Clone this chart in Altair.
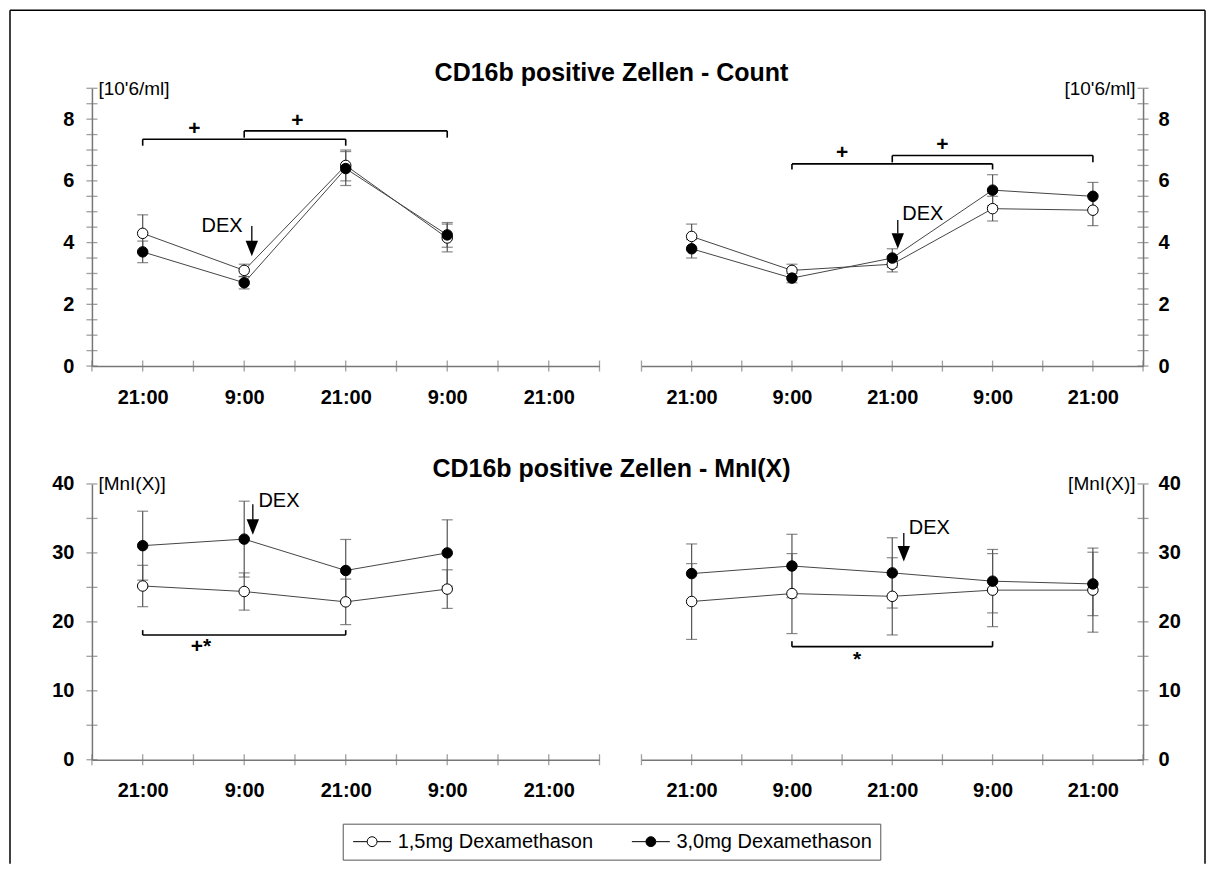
import altair as alt
import pandas as pd

FONT = "Liberation Sans"

groups = ["1,5mg Dexamethason", "3,0mg Dexamethason"]
titles = ["CD16b positive Zellen - Count", "CD16b positive Zellen - MnI(X)"]
x_tick_pos = [1, 3, 5, 7, 9]
x_tick_labels = ["21:00", "9:00", "21:00", "9:00", "21:00"]
x_minor = [0, 1, 2, 3, 4, 5, 6, 7, 8, 9, 10]
count_major = [0, 2, 4, 6, 8]
count_minor = [0, 0.5, 1, 1.5, 2, 2.5, 3, 3.5, 4, 4.5, 5, 5.5, 6, 6.5, 7, 7.5, 8, 8.5, 9]
mni_major = [0, 10, 20, 30, 40]
mni_minor = [0, 5, 10, 15, 20, 25, 30, 35, 40]

# Count, left panel
cl_x = [1, 3, 5, 7]
cl_15 = [4.3, 3.1, 6.5, 4.15]
cl_15_se = [0.6, 0.2, 0.5, 0.45]
cl_30 = [3.7, 2.7, 6.4, 4.25]
cl_30_se = [0.35, 0.2, 0.55, 0.4]

# Count, right panel
cr_x = [1, 3, 5, 7, 9]
cr_15 = [4.2, 3.1, 3.3, 5.1, 5.05]
cr_15_se = [0.4, 0.2, 0.25, 0.4, 0.5]
cr_30 = [3.8, 2.85, 3.5, 5.7, 5.5]
cr_30_se = [0.3, 0.15, 0.3, 0.5, 0.45]

# MnI(X), left panel
ml_x = [1, 3, 5, 7]
ml_15 = [25.2, 24.4, 22.9, 24.75]
ml_15_se = [3.0, 2.7, 3.3, 2.8]
ml_30 = [31.05, 32.0, 27.45, 30.0]
ml_30_se = [5.0, 5.5, 4.5, 4.8]

# MnI(X), right panel
mr_x = [1, 3, 5, 7, 9]
mr_15 = [22.95, 24.1, 23.7, 24.6, 24.6]
mr_15_se = [5.5, 5.8, 5.6, 5.3, 6.1]
mr_30 = [27.0, 28.1, 27.1, 25.9, 25.5]
mr_30_se = [4.3, 4.6, 5.1, 4.6, 4.6]

# significance brackets: x1, x2, y (bar), y_end (end of the end ticks), label, label x, label y
br_cl = [(1, 5, 7.35, 7.14, "+", 2.02, 7.68), (3, 7, 7.62, 7.40, "+", 4.05, 7.95)]
br_cr = [(3, 7, 6.55, 6.37, "+", 4.0, 6.9), (5, 9, 6.82, 6.60, "+", 6.0, 7.16)]
br_ml = [(1, 5, 18.1, 18.8, "+*", 2.15, 16.3)]
br_mr = [(3, 7, 16.4, 17.2, "*", 4.3, 14.5)]

# DEX arrow: x, line top, head base, head tip, text x, text y, text align
dex_cl = (3.15, 4.54, 4.05, 3.57, 2.97, 4.54, "right")
dex_cr = (5.11, 4.73, 4.30, 3.81, 5.20, 4.93, "left")
dex_ml = (3.17, 37.05, 34.8, 32.73, 3.28, 37.5, "left")
dex_mr = (5.23, 32.9, 30.96, 28.8, 5.33, 33.6, "left")

AXIS_GRAY = "#777777"
# legend symbol: line - circle - line, drawn from the entry's left edge
LEGEND_SYMBOL = ("M-1,0H0.85M2.15,0H4M2.15,0A0.65,0.65,0,1,1,0.85,0"
                 "A0.65,0.65,0,1,1,2.15,0Z")
ARROW_HEAD = "M-0.8,-1L0.8,-1L0,1Z"

label_expr = ("[" + ",".join("'%s'" % t for t in x_tick_labels) + "][indexof(["
              + ",".join(str(p) for p in x_tick_pos) + "], datum.value)]")


def panel(xs, m1, e1, m2, e2, ymax, y_major, y_minor, unit, side, brackets, dex,
          W, H, legend=None, decor=None):
    rows = []
    for g, ms, es in ((groups[0], m1, e1), (groups[1], m2, e2)):
        for x, m, e in zip(xs, ms, es):
            rows.append({"x": x, "y": m, "lo": m - e, "hi": m + e, "g": g})
    df = pd.DataFrame(rows)
    xsc = alt.Scale(domain=[0, 10], nice=False, zero=False)
    ysc = alt.Scale(domain=[0, ymax], nice=False, zero=True)

    xaxis = alt.Axis(values=x_tick_pos, labelExpr=label_expr, title=None, ticks=False,
                     tickSize=0, labelPadding=21, domainColor=AXIS_GRAY, domainWidth=1.5,
                     grid=False, labelFontSize=20, labelFontWeight="bold", labelFont=FONT,
                     labelColor="black")
    common_y = dict(values=y_major, title=unit, titleAngle=0, titleBaseline="middle",
                    titleY=0, titleFont=FONT, titleFontSize=19, titleFontWeight="normal",
                    titleColor="black", ticks=False, tickSize=0, domainColor=AXIS_GRAY,
                    domainWidth=1.5, grid=False, labelFontSize=20, labelFontWeight="bold",
                    labelFont=FONT, labelColor="black")
    if side == "left":
        yaxis = alt.Axis(orient="left", titleAlign="left", titleX=6, labelPadding=18, **common_y)
        tick_x = 0
    else:
        yaxis = alt.Axis(orient="right", titleAlign="right", titleX=-8, labelPadding=15, **common_y)
        tick_x = 10

    base = alt.Chart(df)
    ebar = base.mark_rule(color="#555555", strokeWidth=1.2).encode(
        x=alt.X("x:Q", scale=xsc, axis=xaxis),
        y=alt.Y("lo:Q", scale=ysc, axis=yaxis),
        y2="hi:Q",
    )
    cap_lo = base.mark_tick(orient="horizontal", size=11, thickness=1.2, color="#555555").encode(
        x=alt.X("x:Q", scale=xsc), y=alt.Y("lo:Q", scale=ysc))
    cap_hi = base.mark_tick(orient="horizontal", size=11, thickness=1.2, color="#555555").encode(
        x=alt.X("x:Q", scale=xsc), y=alt.Y("hi:Q", scale=ysc))
    line = base.mark_line(color="#444444", strokeWidth=1).encode(
        x=alt.X("x:Q", scale=xsc), y=alt.Y("y:Q", scale=ysc), detail="g:N")
    pts = base.mark_point(filled=True, size=110, stroke="black", strokeWidth=1, opacity=1).encode(
        x=alt.X("x:Q", scale=xsc), y=alt.Y("y:Q", scale=ysc),
        fill=alt.Fill("g:N", scale=alt.Scale(domain=groups, range=["white", "black"]),
                      legend=legend))

    xt = alt.Chart(pd.DataFrame({"v": x_minor})).mark_tick(
        orient="vertical", size=11, thickness=1.3, color=AXIS_GRAY).encode(
        x=alt.X("v:Q", scale=xsc), y=alt.datum(0))
    yt = alt.Chart(pd.DataFrame({"v": y_minor})).mark_tick(
        orient="horizontal", size=11, thickness=1.3, color=AXIS_GRAY).encode(
        y=alt.Y("v:Q", scale=ysc), x=alt.datum(tick_x))

    bdf = pd.DataFrame(brackets, columns=["x1", "x2", "yb", "ye", "lab", "lx", "ly"])
    bb = alt.Chart(bdf)
    b_h = bb.mark_rule(color="black", strokeWidth=1.6).encode(
        x=alt.X("x1:Q", scale=xsc), x2="x2:Q", y=alt.Y("yb:Q", scale=ysc))
    b_l = bb.mark_rule(color="black", strokeWidth=1.6).encode(
        x=alt.X("x1:Q", scale=xsc), y=alt.Y("yb:Q", scale=ysc), y2="ye:Q")
    b_r = bb.mark_rule(color="black", strokeWidth=1.6).encode(
        x=alt.X("x2:Q", scale=xsc), y=alt.Y("yb:Q", scale=ysc), y2="ye:Q")
    b_t = bb.mark_text(font=FONT, fontSize=21, fontWeight="bold", color="black",
                       baseline="middle", align="center").encode(
        x=alt.X("lx:Q", scale=xsc), y=alt.Y("ly:Q", scale=ysc), text="lab:N")

    ax, atop, abase, atip, tx, ty, talign = dex
    ddf = pd.DataFrame([{"ax": ax, "atop": atop, "abase": abase,
                         "amid": (abase + atip) / 2, "tx": tx, "ty": ty, "t": "DEX"}])
    dd = alt.Chart(ddf)
    d_line = dd.mark_rule(color="black", strokeWidth=1.3).encode(
        x=alt.X("ax:Q", scale=xsc), y=alt.Y("atop:Q", scale=ysc), y2="abase:Q")
    d_head = dd.mark_point(shape=ARROW_HEAD, filled=True, size=240, color="black",
                           opacity=1).encode(
        x=alt.X("ax:Q", scale=xsc), y=alt.Y("amid:Q", scale=ysc))
    d_text = dd.mark_text(font=FONT, fontSize=20, color="black", baseline="middle",
                          align=talign).encode(
        x=alt.X("tx:Q", scale=xsc), y=alt.Y("ty:Q", scale=ysc), text="t:N")

    layers = [ebar, cap_lo, cap_hi, line, xt, yt, b_h, b_l, b_r, b_t,
              d_line, d_head, d_text, pts]
    if decor:
        layers += decor
    return alt.layer(*layers).properties(width=W, height=H)


one = pd.DataFrame({"k": [0]})
frame = [
    alt.Chart(one).mark_rule(color="black", strokeWidth=1.5).encode(
        x=alt.value(-82), y=alt.value(-78), y2=alt.value(776)),
    alt.Chart(one).mark_rule(color="black", strokeWidth=1.5).encode(
        x=alt.value(1114), y=alt.value(-78), y2=alt.value(776)),
    alt.Chart(one).mark_rule(color="black", strokeWidth=1.5).encode(
        x=alt.value(-82), x2=alt.value(1114), y=alt.value(-78)),
    alt.Chart(pd.DataFrame({"t": [titles[0]]})).mark_text(
        font=FONT, fontSize=25, fontWeight="bold", color="black",
        align="center", baseline="middle").encode(
        x=alt.value(520), y=alt.value(-15), text="t:N"),
]
title2 = [
    alt.Chart(pd.DataFrame({"t": [titles[1]]})).mark_text(
        font=FONT, fontSize=25, fontWeight="bold", color="black",
        align="center", baseline="middle").encode(
        x=alt.value(520), y=alt.value(-15), text="t:N"),
]

legend = alt.Legend(orient="none", legendX=251, legendY=340, direction="horizontal",
                    title=None, symbolType=LEGEND_SYMBOL, symbolSize=231,
                    symbolStrokeColor="black", symbolStrokeWidth=1, symbolOpacity=1,
                    labelFont=FONT, labelFontSize=20, labelColor="black", labelOffset=27,
                    labelLimit=400, columnPadding=36, padding=8, strokeColor="#555555")

W1, W2, H1, H2 = 508, 502, 278, 276

tl = panel(cl_x, cl_15, cl_15_se, cl_30, cl_30_se, 9, count_major, count_minor,
           "[10'6/ml]", "left", br_cl, dex_cl, W1, H1, decor=frame)
tr = panel(cr_x, cr_15, cr_15_se, cr_30, cr_30_se, 9, count_major, count_minor,
           "[10'6/ml]", "right", br_cr, dex_cr, W2, H1)
bl = panel(ml_x, ml_15, ml_15_se, ml_30, ml_30_se, 40, mni_major, mni_minor,
           "[MnI(X)]", "left", br_ml, dex_ml, W1, H2, legend=legend, decor=title2)
brc = panel(mr_x, mr_15, mr_15_se, mr_30, mr_30_se, 40, mni_major, mni_minor,
            "[MnI(X)]", "right", br_mr, dex_mr, W2, H2)

chart = alt.concat(tl, tr, bl, brc, columns=2, spacing={"row": 118, "column": 42},
                   bounds="flush", align="each").resolve_scale(
    x="independent", y="independent", fill="independent").properties(
    padding={"left": 1, "top": 1, "right": 1, "bottom": 1}
).configure(font=FONT, background="white").configure_view(strokeWidth=0, stroke=None)

chart.save("out.html", embed_options={"renderer": "svg", "actions": False})
